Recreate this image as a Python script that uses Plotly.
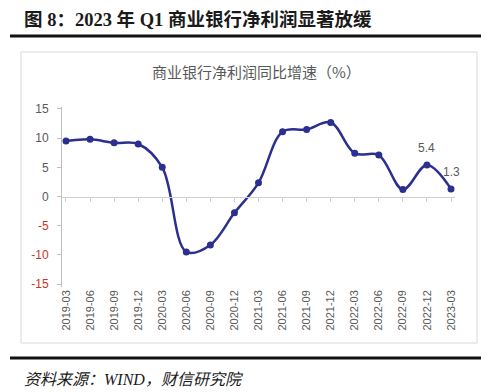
import plotly.graph_objects as go

categories = ["2019-03", "2019-06", "2019-09", "2019-12", "2020-03", "2020-06",
              "2020-09", "2020-12", "2021-03", "2021-06", "2021-09", "2021-12",
              "2022-03", "2022-06", "2022-09", "2022-12", "2023-03"]
growth = [9.5, 9.8, 9.2, 9.0, 5.0, -9.5, -8.3, -2.8, 2.35, 11.1, 11.5, 12.7,
          7.4, 7.1, 1.2, 5.4, 1.3]
labelled = ["2022-12", "2023-03"]
label_text = ["5.4", "1.3"]

y_tickvals = [15, 10, 5, 0, -5, -10, -15]
y_ticktext = ["15", "10", "5", "0", "-5", "-10", "-15"]

fig_title = "图 8：2023 年 Q1 商业银行净利润显著放缓"
chart_title = "商业银行净利润同比增速（%）"
source_text = "资料来源：WIND，财信研究院"

W, H = 500, 392
L, R, T, B = 62, 455, 107, 287


def px(x):
    return (x - L) / (R - L)


def py(y):
    return (B - y) / (B - T)


LINE = "#2B2F8F"
GREY = "#595959"
RED = "#C0392B"

yr = [-15.51, 15.34]
xr = [-0.166, 16.166]

ticktext = [t if not t.startswith("-") else f'<span style="color:{RED}">{t}</span>'
            for t in y_ticktext]

fig = go.Figure()
fig.add_trace(go.Scatter(
    x=categories, y=growth, mode="lines+markers",
    line=dict(color=LINE, width=2.5, shape="spline", smoothing=1),
    marker=dict(color=LINE, size=7),
    hoverinfo="skip", showlegend=False,
))
fig.add_trace(go.Scatter(
    x=categories, y=growth, mode="markers", xaxis="x2",
    marker=dict(opacity=0), hoverinfo="skip", showlegend=False,
))

annotations = []
for c, t in zip(labelled, label_text):
    v = growth[categories.index(c)]
    annotations.append(dict(x=c, y=v, xref="x", yref="y", text=t, showarrow=False,
                            yshift=17, font=dict(size=12, color=GREY,
                                                 family="Liberation Sans")))

annotations += [
    dict(x=px(22), y=py(19), xref="paper", yref="paper", text=f"<b>{fig_title}</b>",
         showarrow=False, xanchor="left", yanchor="middle",
         font=dict(size=18.5, color="#1a1a1a",
                   family="Liberation Serif, Noto Sans CJK SC")),
    dict(x=px(256), y=py(71), xref="paper", yref="paper", text=chart_title,
         showarrow=False, xanchor="center", yanchor="middle",
         font=dict(size=15, color=GREY, family="Noto Sans CJK SC")),
    dict(x=px(22), y=py(379), xref="paper", yref="paper", text=f"<i>{source_text}</i>",
         showarrow=False, xanchor="left", yanchor="middle",
         font=dict(size=16, color="#1a1a1a",
                   family="Liberation Serif, Noto Sans CJK SC")),
]

shapes = [
    dict(type="rect", xref="paper", yref="paper", x0=px(21), x1=px(477),
         y0=py(52), y1=py(343), line=dict(color="#D9D9D9", width=1)),
    dict(type="line", xref="paper", yref="paper", x0=px(10), x1=px(481),
         y0=py(36), y1=py(36), line=dict(color="#111111", width=3)),
    dict(type="line", xref="paper", yref="paper", x0=px(10), x1=px(481),
         y0=py(358), y1=py(358), line=dict(color="#111111", width=3)),
]

zero_pos = (0 - yr[0]) / (yr[1] - yr[0])

fig.update_layout(
    width=W, height=H,
    margin=dict(l=L, r=W - R, t=T, b=H - B),
    paper_bgcolor="white", plot_bgcolor="white",
    showlegend=False,
    annotations=annotations,
    shapes=shapes,
    xaxis=dict(
        type="category", categoryorder="array", categoryarray=categories,
        range=xr, showgrid=False, zeroline=False, showline=False, ticks="",
        tickangle=-90, tickfont=dict(size=11, color=GREY, family="Liberation Sans"),
    ),
    xaxis2=dict(
        type="category", categoryorder="array", categoryarray=categories,
        overlaying="x", anchor="free", position=zero_pos, matches="x",
        showgrid=False, zeroline=False, showline=True, linecolor="#D0D0D0",
        linewidth=1, ticks="outside", ticklen=4, tickcolor="#D0D0D0",
        showticklabels=False,
    ),
    yaxis=dict(
        range=yr, tickvals=y_tickvals, ticktext=ticktext, showgrid=False,
        zeroline=False, showline=True, linecolor="#BFBFBF", linewidth=1,
        ticks="outside", ticklen=4, tickcolor="#BFBFBF", ticklabelstandoff=6,
        tickfont=dict(size=12, color=GREY, family="Liberation Sans"),
    ),
)

fig.write_html("out.html", config={"displayModeBar": False},
               post_script="document.body.style.margin='0';document.body.style.overflow='hidden';")
